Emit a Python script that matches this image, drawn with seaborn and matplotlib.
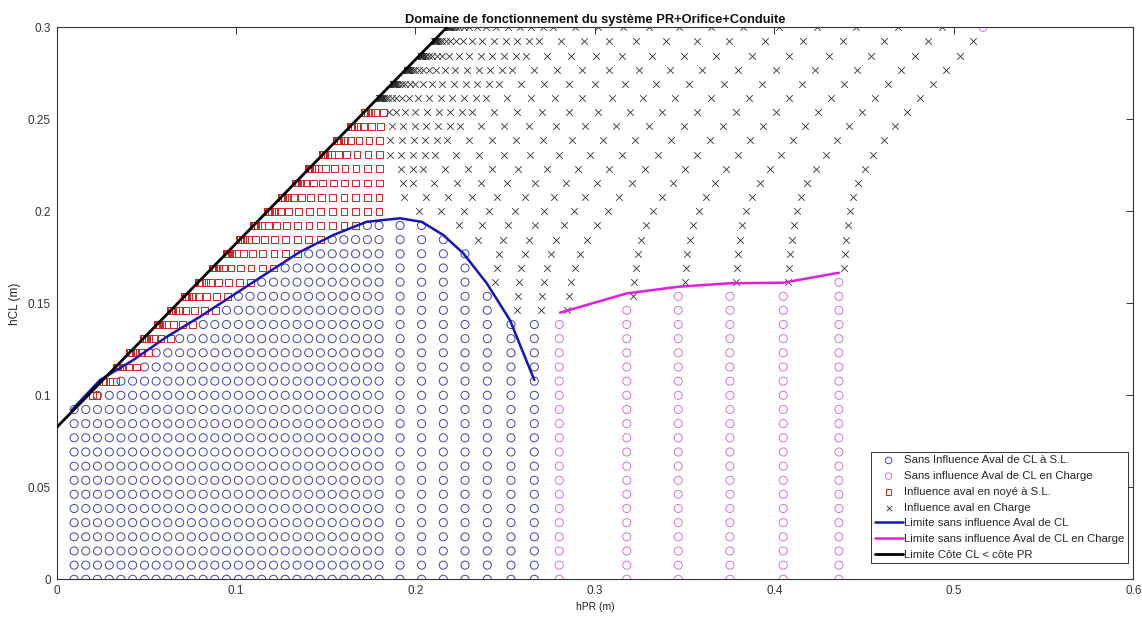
import numpy as np
import pandas as pd
import matplotlib
matplotlib.use("Agg")
import matplotlib.pyplot as plt
import seaborn as sns

# ---------------- data ----------------
# hCL levels of the computation grid (m)
hcl_levels = [0.0000, 0.0077, 0.0154, 0.0231, 0.0308, 0.0385, 0.0462, 0.0538, 0.0615, 0.0692,
              0.0769, 0.0846, 0.0923, 0.1000, 0.1077, 0.1154, 0.1231, 0.1308, 0.1385, 0.1462,
              0.1538, 0.1615, 0.1692, 0.1769, 0.1846, 0.1923, 0.2000, 0.2077, 0.2154, 0.2231,
              0.2308, 0.2385, 0.2462, 0.2538, 0.2615, 0.2692, 0.2769, 0.2846, 0.2923, 0.3000]

# free-surface flow columns: hPR without downstream influence (m)
hpr_sl = [0.0098, 0.0163, 0.0228, 0.0294, 0.0359, 0.0424, 0.0490, 0.0555, 0.0620, 0.0686,
          0.0751, 0.0817, 0.0882, 0.0947, 0.1013, 0.1078, 0.1143, 0.1209, 0.1274, 0.1340,
          0.1405, 0.1470, 0.1536, 0.1601, 0.1666, 0.1732, 0.1797,
          0.1914, 0.2034, 0.2155, 0.2276, 0.2400, 0.2532, 0.2662]
# highest grid row (index in hcl_levels) still without downstream influence
top_sl = [12, 12, 13, 13, 14, 14, 15, 16, 16, 17, 17, 18, 18, 19, 20, 20, 21, 21, 22, 22,
          23, 23, 24, 24, 24, 25, 25, 25, 25, 24, 23, 20, 18, 18]
# hPR reached by each column on the upper edge hCL = 0.3 (m)
hpr_top_sl = [0.2175, 0.2175, 0.2175, 0.2175, 0.2175, 0.2175, 0.2175, 0.2175, 0.2176, 0.2177,
              0.2179, 0.2181, 0.2185, 0.2190, 0.2199, 0.2212, 0.2230, 0.2255, 0.2285, 0.2325,
              0.2376, 0.2432, 0.2499, 0.2564, 0.2627, 0.2694, 0.2749,
              0.2870, 0.3000, 0.3139, 0.3288, 0.3455, 0.3631, 0.3812]

# pressurised ("en charge") columns
hpr_ch = [0.2801, 0.3177, 0.3464, 0.3752, 0.4049, 0.4359]
top_ch = [18, 19, 20, 20, 20, 21]
hpr_top_ch = [0.4012, 0.4220, 0.4439, 0.4671, 0.4913, 0.5162]
# isolated magenta circle on the upper edge
extra_ch_hpr = [0.5162]
extra_ch_hcl = [0.3000]

# limit curves
blue_hpr = [0.0085, 0.0242, 0.0428, 0.0614, 0.0799, 0.0985, 0.1171, 0.1357, 0.1542, 0.1728,
            0.1914, 0.2034, 0.2155, 0.2266, 0.2397, 0.2526, 0.2662]
blue_hcl = [0.0920, 0.1083, 0.1192, 0.1318, 0.1427, 0.1545, 0.1663, 0.1780, 0.1871, 0.1943,
            0.1962, 0.1943, 0.1871, 0.1772, 0.1609, 0.1409, 0.1083]
mag_hpr = [0.2805, 0.3177, 0.3464, 0.3752, 0.4049, 0.4359]
mag_hcl = [0.1449, 0.1554, 0.1590, 0.1609, 0.1612, 0.1666]
limit_hpr = [0.0, 0.2175]
limit_hcl = [0.0825, 0.3000]

n_dense = 27          # columns of the dense block (hPR <= 0.18)
first_full_charge_row = 34

# ---------------- build point sets ----------------
rows = np.array(hcl_levels)
slope = (limit_hpr[1] - limit_hpr[0]) / (limit_hcl[1] - limit_hcl[0])


def x_limit(y):
    return limit_hpr[0] + (y - limit_hcl[0]) * slope


x_edge = x_limit(limit_hcl[1])
dense_max = hpr_sl[n_dense - 1]
w_sl = 0.008
eps_ch = 0.025

blue_pts, red_pts, cross_pts, mag_pts = [], [], [], []

for j, (x0, top, xt) in enumerate(zip(hpr_sl, top_sl, hpr_top_sl)):
    d = xt - x_edge
    for k in range(0, top + 1):
        blue_pts.append((x0, rows[k]))
    for k in range(top + 1, len(rows)):
        y = rows[k]
        xl = x_limit(y)
        if j < n_dense and k < first_full_charge_row:
            xr = xl + w_sl * np.log1p(np.exp((x0 - xl) / w_sl))
            red_pts.append((xr, y))
        b = xl + d
        if j < n_dense and k < first_full_charge_row and b <= dense_max:
            continue
        xc = 0.5 * (x0 + b + np.sqrt((x0 - b) ** 2 + eps_ch ** 2))
        cross_pts.append((xc, y))

for x0, top, xt in zip(hpr_ch, top_ch, hpr_top_ch):
    d = xt - x_edge
    for k in range(0, top + 1):
        mag_pts.append((x0, rows[k]))
    for k in range(top + 1, len(rows)):
        y = rows[k]
        b = x_limit(y) + d
        xc = 0.5 * (x0 + b + np.sqrt((x0 - b) ** 2 + eps_ch ** 2))
        if any(abs(xc - ex) < 0.006 and abs(y - ey) < 0.002
               for ex, ey in zip(extra_ch_hpr, extra_ch_hcl)):
            continue
        cross_pts.append((xc, y))
mag_pts += list(zip(extra_ch_hpr, extra_ch_hcl))

df_blue = pd.DataFrame(blue_pts, columns=["hPR", "hCL"])
df_mag = pd.DataFrame(mag_pts, columns=["hPR", "hCL"])
df_red = pd.DataFrame(red_pts, columns=["hPR", "hCL"])
df_x = pd.DataFrame(cross_pts, columns=["hPR", "hCL"])

# ---------------- plot ----------------
sns.set_theme(style="white")
plt.rcParams["font.family"] = ["Liberation Sans", "DejaVu Sans"]
plt.rcParams["axes.unicode_minus"] = False

fig = plt.figure(figsize=(11.42, 6.18), dpi=100)
ax = fig.add_axes([0.0495, 0.0626, 0.943, 0.8932])

c_blue_m = "#42429e"
c_mag_m = "#d274d2"
c_red_m = "#d42222"
c_x = "#303030"

sns.scatterplot(data=df_blue, x="hPR", y="hCL", ax=ax, marker="o", s=34,
                color=c_blue_m, facecolor="none", edgecolor=c_blue_m, linewidth=0.7,
                label="Sans Influence Aval de CL à S.L.", zorder=2)
sns.scatterplot(data=df_mag, x="hPR", y="hCL", ax=ax, marker="o", s=34,
                color=c_mag_m, facecolor="none", edgecolor=c_mag_m, linewidth=0.7,
                label="Sans influence Aval de CL en Charge", zorder=2)
sns.scatterplot(data=df_red, x="hPR", y="hCL", ax=ax, marker="s", s=24,
                color=c_red_m, facecolor="none", edgecolor=c_red_m, linewidth=0.7,
                label="Influence aval en noyé à S.L.", zorder=2)
sns.scatterplot(data=df_x, x="hPR", y="hCL", ax=ax, marker="x", s=22,
                color=c_x, linewidth=0.6,
                label="Influence aval en Charge", zorder=2)

sns.lineplot(x=blue_hpr, y=blue_hcl, ax=ax, sort=False, estimator=None,
             color="#1515b8", linewidth=1.8, label="Limite sans influence Aval de CL", zorder=3)
sns.lineplot(x=mag_hpr, y=mag_hcl, ax=ax, sort=False, estimator=None,
             color="#e01ee0", linewidth=1.8, label="Limite sans influence Aval de CL en Charge",
             zorder=3)
sns.lineplot(x=limit_hpr, y=limit_hcl, ax=ax, sort=False, estimator=None,
             color="black", linewidth=2.0, label="Limite Côte CL < côte PR", zorder=3)

ax.set_xlim(0, 0.6)
ax.set_ylim(0, 0.3)
ax.set_xticks([0, 0.1, 0.2, 0.3, 0.4, 0.5, 0.6])
ax.set_xticklabels(["0", "0.1", "0.2", "0.3", "0.4", "0.5", "0.6"])
ax.set_yticks([0, 0.05, 0.1, 0.15, 0.2, 0.25, 0.3])
ax.set_yticklabels(["0", "0.05", "0.1", "0.15", "0.2", "0.25", "0.3"])
ax.tick_params(direction="in", length=5, width=0.7, top=True, right=True,
               labelsize=8.5, colors="#333333", pad=4)
for sp in ax.spines.values():
    sp.set_visible(True)
    sp.set_color("#333333")
    sp.set_linewidth(0.8)

ax.set_xlabel("hPR (m)", fontsize=7.5, color="#222222", labelpad=4)
ax.set_ylabel("hCL (m)", fontsize=8.5, color="#222222", labelpad=5)
ax.set_title("Domaine de fonctionnement du système PR+Orifice+Conduite",
             fontsize=9.3, fontweight="bold", color="#111111", pad=3)

leg = ax.legend(loc="lower right", bbox_to_anchor=(0.995, 0.0295), borderaxespad=0,
                fontsize=8.2, frameon=True, fancybox=False, framealpha=1,
                edgecolor="#333333", handlelength=2.45, handletextpad=0.15,
                labelspacing=0.5, borderpad=0.3, markerscale=0.8)
leg.get_frame().set_linewidth(0.7)

fig.savefig("out.png", dpi=100)
